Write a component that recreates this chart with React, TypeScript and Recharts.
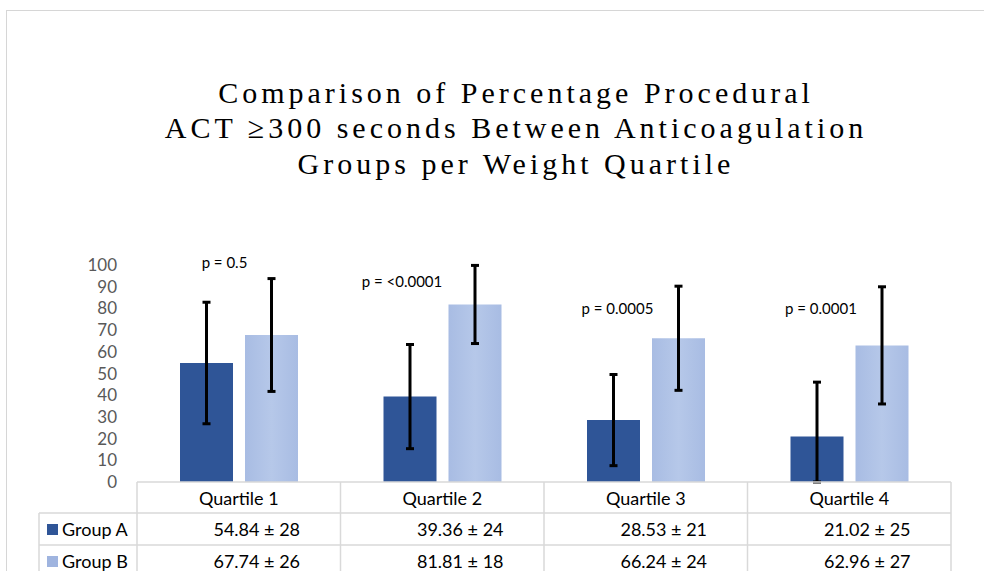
import { BarChart, Bar, XAxis, YAxis, ErrorBar, LabelList } from "recharts";

const quartiles = ["Quartile 1", "Quartile 2", "Quartile 3", "Quartile 4"];
const groupA = [54.84, 39.36, 28.53, 21.02];
const groupASd = [28, 24, 21, 25];
const groupB = [67.74, 81.81, 66.24, 62.96];
const groupBSd = [26, 18, 24, 27];
const pValues = ["p = 0.5", "p = <0.0001", "p = 0.0005", "p = 0.0001"];
const yTicks = [0, 10, 20, 30, 40, 50, 60, 70, 80, 90, 100];
const titleLines = [
  "Comparison of Percentage Procedural",
  "ACT \u2265300 seconds Between Anticoagulation",
  "Groups per Weight Quartile",
];

// p-value notes: height in chart units, sideways nudge in px
const pNoteLevel = [101.3, 92.6, 80.2, 80.2];
const pNoteNudge = [18, -8, 4, 4];

const data = quartiles.map((q, i) => ({
  name: q,
  a: groupA[i],
  aSd: groupASd[i],
  b: groupB[i],
  bSd: groupBSd[i],
}));

const W = 984;
const H = 600;
const PLOT_LEFT = 137;
const PLOT_RIGHT = 951;
const PLOT_TOP = 265;
const PLOT_BOTTOM = 482;
const step = (PLOT_RIGHT - PLOT_LEFT) / quartiles.length;

const DARK = "#2F5597";
const LIGHT_KEY = "#9FB4DF";
const GRID = "#D9D9D9";
const SANS = "Lato, 'Open Sans', sans-serif";
const CELL_FONT = 18;

const fmt = (v: number, sd: number) => `${v.toFixed(2)} \u00B1 ${sd}`;

const TableTick = (props: any) => {
  const { x, y, payload } = props;
  const i = quartiles.indexOf(payload.value);
  const half = step / 2;
  const left = x - half;
  const right = x + half;
  const r1 = y + 31;
  const r2 = y + 63;
  const bottom = y + 120;
  const keyLeft = left - 98;
  return (
    <g>
      {i === 0 && (
        <g>
          <line x1={left} y1={y} x2={left} y2={bottom} stroke={GRID} strokeWidth={1.5} />
          <line x1={keyLeft} y1={r1} x2={keyLeft} y2={bottom} stroke={GRID} strokeWidth={1.5} />
          <line x1={keyLeft} y1={r1} x2={left} y2={r1} stroke={GRID} strokeWidth={1.5} />
          <line x1={keyLeft} y1={r2} x2={left} y2={r2} stroke={GRID} strokeWidth={1.5} />
          <rect x={keyLeft + 8} y={r1 + 11} width={11} height={11} fill={DARK} />
          <rect x={keyLeft + 8} y={r2 + 11} width={11} height={11} fill={LIGHT_KEY} />
          <text x={keyLeft + 23} y={r1 + 16} dominantBaseline="central" fontSize={CELL_FONT} fontFamily={SANS} fill="#000">
            Group A
          </text>
          <text x={keyLeft + 23} y={r2 + 16} dominantBaseline="central" fontSize={CELL_FONT} fontFamily={SANS} fill="#000">
            Group B
          </text>
        </g>
      )}
      <line x1={right} y1={y} x2={right} y2={bottom} stroke={GRID} strokeWidth={1.5} />
      <line x1={left} y1={r1} x2={right} y2={r1} stroke={GRID} strokeWidth={1.5} />
      <line x1={left} y1={r2} x2={right} y2={r2} stroke={GRID} strokeWidth={1.5} />
      <text x={x} y={y + 15.5} textAnchor="middle" dominantBaseline="central" fontSize={CELL_FONT} fontFamily={SANS} fill="#000">
        {payload.value}
      </text>
      <text x={x + 18} y={r1 + 16} textAnchor="middle" dominantBaseline="central" fontSize={CELL_FONT} fontFamily={SANS} fill="#000">
        {fmt(groupA[i], groupASd[i])}
      </text>
      <text x={x + 18} y={r2 + 16} textAnchor="middle" dominantBaseline="central" fontSize={CELL_FONT} fontFamily={SANS} fill="#000">
        {fmt(groupB[i], groupBSd[i])}
      </text>
    </g>
  );
};

const PNote = (props: any) => {
  const vb = props.viewBox ?? props;
  const { x, y, width, height } = vb;
  const i = quartiles.indexOf(props.value);
  if (i < 0) return null;
  const base = y + height;
  const perUnit = height / groupA[i];
  const ly = base - pNoteLevel[i] * perUnit;
  return (
    <text
      x={x + width / 2 + pNoteNudge[i]}
      y={ly}
      textAnchor="middle"
      dominantBaseline="central"
      fontSize={15}
      fontFamily={SANS}
      fill="#000"
    >
      {pValues[i]}
    </text>
  );
};

export default function App() {
  return (
    <div
      style={{
        position: "absolute",
        left: 0,
        top: 0,
        width: W,
        height: 571,
        overflow: "hidden",
        background: "#fff",
      }}
    >
      <div
        style={{
          position: "absolute",
          left: 6,
          top: 10,
          width: 1100,
          height: 700,
          border: "1px solid #D6D6D6",
        }}
      />
      <div
        style={{
          position: "absolute",
          left: 16,
          top: 75,
          width: 1000,
          textAlign: "center",
          whiteSpace: "nowrap",
          fontFamily: "'Liberation Serif', 'Times New Roman', serif",
          fontSize: 30,
          lineHeight: "35.3px",
          letterSpacing: 4,
          color: "#000",
        }}
      >
        {titleLines.map((l) => (
          <div key={l}>{l}</div>
        ))}
      </div>
      <div style={{ position: "absolute", left: 0, top: 0 }}>
        <BarChart
          width={W}
          height={H}
          data={data}
          margin={{ top: PLOT_TOP, right: W - PLOT_RIGHT, left: PLOT_LEFT - 60, bottom: 0 }}
          barSize={53}
          barGap={12}
        >
          <defs>
            <linearGradient id="lightFill" x1="0" y1="0" x2="1" y2="0">
              <stop offset="0" stopColor="#A8BCE3" />
              <stop offset="0.5" stopColor="#B6C8E9" />
              <stop offset="1" stopColor="#A8BCE3" />
            </linearGradient>
          </defs>
          <XAxis
            dataKey="name"
            height={H - PLOT_BOTTOM}
            interval={0}
            tickLine={false}
            tickSize={0}
            tickMargin={0}
            axisLine={{ stroke: GRID, strokeWidth: 1.5 }}
            tick={<TableTick />}
          />
          <YAxis
            width={60}
            domain={[0, 100]}
            ticks={yTicks}
            interval={0}
            axisLine={false}
            tickLine={false}
            tickMargin={14}
            tick={{ fill: "#595959", fontSize: 17, fontFamily: SANS }}
          />
          <Bar dataKey="a" fill={DARK} isAnimationActive={false}>
            <ErrorBar
              dataKey={(d: any) => [Math.min(d.aSd, d.a), d.aSd]}
              width={4}
              stroke="#000"
              strokeWidth={3}
              direction="y"
            />
            <LabelList dataKey="name" content={<PNote />} />
          </Bar>
          <Bar dataKey="b" fill="url(#lightFill)" isAnimationActive={false}>
            <ErrorBar dataKey="bSd" width={4} stroke="#000" strokeWidth={3} direction="y" />
          </Bar>
        </BarChart>
      </div>
    </div>
  );
}
